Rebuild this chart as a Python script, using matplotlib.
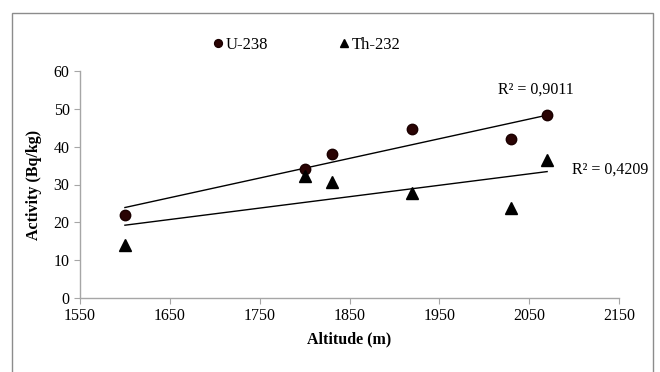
import matplotlib
matplotlib.use("Agg")
import matplotlib.pyplot as plt
import numpy as np
from matplotlib.patches import Rectangle

plt.rcParams['font.family'] = ['Liberation Serif', 'DejaVu Serif']

altitude = [1600, 1800, 1830, 1920, 2030, 2070]
u238 = [22.0, 34.0, 38.0, 44.8, 42.0, 48.4]
th232 = [14.0, 32.3, 30.6, 27.8, 23.9, 36.6]
r2_labels = ["R² = 0,9011", "R² = 0,4209"]
x_ticks = [1550, 1650, 1750, 1850, 1950, 2050, 2150]
y_ticks = [0, 10, 20, 30, 40, 50, 60]

fig = plt.figure(figsize=(6.6, 3.72), dpi=100)
fig.patches.append(Rectangle((12/660, -0.05), (653-12)/660, 1.05 - 13/372,
                             transform=fig.transFigure, fill=False,
                             edgecolor='#8c8c8c', linewidth=1.0))
ax = fig.add_axes([80/660, 1-298/372, 539/660, 227/372])

spine_c = '#a6a6a6'
for s in ['top', 'right']:
    ax.spines[s].set_visible(False)
for s in ['left', 'bottom']:
    ax.spines[s].set_color(spine_c)
    ax.spines[s].set_linewidth(1.0)
ax.tick_params(axis='both', colors=spine_c, length=4, width=0.8, direction='out',
               labelsize=11.5, labelcolor='black')

x = np.array(altitude, dtype=float)
for ys in (u238, th232):
    k, b = np.polyfit(x, np.array(ys), 1)
    xs = np.array([x.min(), x.max()])
    ax.plot(xs, k*xs + b, color='black', linewidth=1.0, zorder=2)

ax.plot(altitude, u238, linestyle='none', marker='o', markersize=7.5,
        markerfacecolor='#2a0404', markeredgecolor='#1a0000', zorder=3, label='U-238')
ax.plot(altitude, th232, linestyle='none', marker='^', markersize=8,
        markerfacecolor='black', markeredgecolor='black', zorder=3, label='Th-232')

ax.set_xlim(1550, 2150)
ax.set_ylim(0, 60)
ax.set_xticks(x_ticks)
ax.set_yticks(y_ticks)

ax.text(2058, 55, r2_labels[0], fontsize=11.5, ha='center', va='center', clip_on=False)
ax.text(2098, 33.9, r2_labels[1], fontsize=11.5, ha='left', va='center', clip_on=False)

ax.set_xlabel('Altitude (m)', fontsize=11.5, fontweight='bold', labelpad=5)
ax.set_ylabel('Activity (Bq/kg)', fontsize=11.5, fontweight='bold', labelpad=8)

leg = ax.legend(loc='center', bbox_to_anchor=(305/660, 1-45/372),
                bbox_transform=fig.transFigure, ncol=2, frameon=False,
                fontsize=12, handletextpad=0.0, columnspacing=4.0,
                markerscale=0.75, handlelength=1.0)

fig.savefig('out.png', dpi=100)
